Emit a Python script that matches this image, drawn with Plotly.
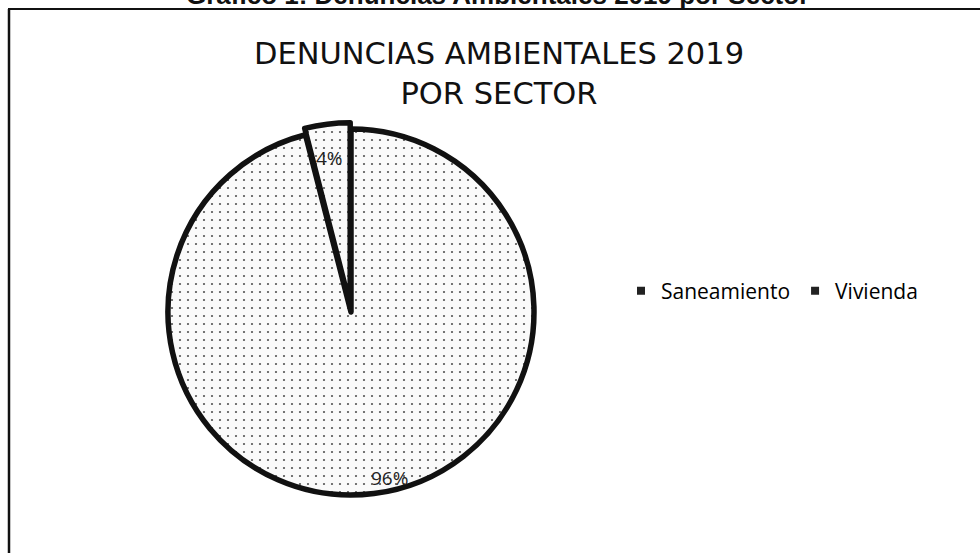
import math
import plotly.graph_objects as go

# ---- data ----
sectors = ["Saneamiento", "Vivienda"]
shares = [96, 4]
chart_title = "DENUNCIAS AMBIENTALES 2019<br>POR SECTOR"
doc_caption = "Gráfico 1: Denuncias Ambientales 2019 por Sector"

W, H = 980, 553
cx, cy, R = 351, 312, 183  # pie centre / radius in pixels (top-left origin)
pull_v = 0.035
half = R * (1 + pull_v)


def px_x(x):
    return x / W


def px_y(y):
    return 1 - y / H


fig = go.Figure()
fig.add_trace(go.Pie(
    labels=sectors,
    values=shares,
    sort=False,
    direction="clockwise",
    rotation=0,
    pull=[0, pull_v],
    textinfo="none",
    hoverinfo="label+percent",
    showlegend=False,
    domain=dict(x=[(cx - half) / W, (cx + half) / W],
                y=[(H - cy - half) / H, (H - cy + half) / H]),
    marker=dict(
        colors=["#f7f7f7", "#f7f7f7"],
        line=dict(color="#111111", width=5.5),
        pattern=dict(shape=".", fgcolor="#555555", bgcolor="#fafafa",
                     size=8, solidity=0.06),
    ),
))

# legend entries (dark square markers like the original)
for s in sectors:
    fig.add_trace(go.Scatter(x=[None], y=[None], mode="markers", name=s,
                             marker=dict(symbol="square", size=8, color="#222222"),
                             showlegend=True))

# percentage labels positioned from the slice angles
total = sum(shares)
start = 0.0
annotations = []
frac = [0.93, 0.82]
tweak = [-6, -0.8]
for i, v in enumerate(shares):
    mid = start + v / total * 360 / 2
    start += v / total * 360
    ang = math.radians(mid + tweak[i])
    r = R * frac[i] * (1 + (pull_v if i == 1 else 0))
    x = cx + r * math.sin(ang)
    y = cy - r * math.cos(ang)
    annotations.append(dict(x=px_x(x), y=px_y(y), xref="paper", yref="paper",
                            xanchor="center", yanchor="middle",
                            text=f"{v}%", showarrow=False,
                            font=dict(family="Open Sans", size=19, color="#222")))

# document caption above the chart frame (cut at the top edge as in the scan)
annotations.append(dict(x=px_x(497), y=px_y(12), xref="paper", yref="paper",
                        xanchor="center", yanchor="bottom",
                        text=f"<b>{doc_caption}</b>", showarrow=False,
                        font=dict(family="Liberation Sans", size=26, color="#111")))

fig.update_layout(
    width=W, height=H,
    margin=dict(l=0, r=0, t=0, b=0),
    paper_bgcolor="white", plot_bgcolor="white",
    title=dict(text=chart_title, x=px_x(499), xanchor="center",
               y=px_y(64), yanchor="middle",
               font=dict(family="DejaVu Sans", size=30.5, color="#111")),
    xaxis=dict(visible=False), yaxis=dict(visible=False),
    legend=dict(orientation="h", x=px_x(621), y=px_y(291), yanchor="middle",
                xanchor="left", font=dict(family="Open Sans", size=21, color="#000"),
                bgcolor="rgba(0,0,0,0)", itemwidth=30),
    annotations=annotations,
    shapes=[
        dict(type="line", xref="paper", yref="paper", x0=px_x(8), x1=1.02,
             y0=px_y(9), y1=px_y(9), line=dict(color="#111", width=2)),
        dict(type="line", xref="paper", yref="paper", x0=px_x(9), x1=px_x(9),
             y0=px_y(9), y1=-0.02, line=dict(color="#111", width=2.5)),
    ],
)

fig.write_html("out.html", config={"displayModeBar": False},
               post_script="document.body.style.margin='0px';document.body.style.padding='0px';")
